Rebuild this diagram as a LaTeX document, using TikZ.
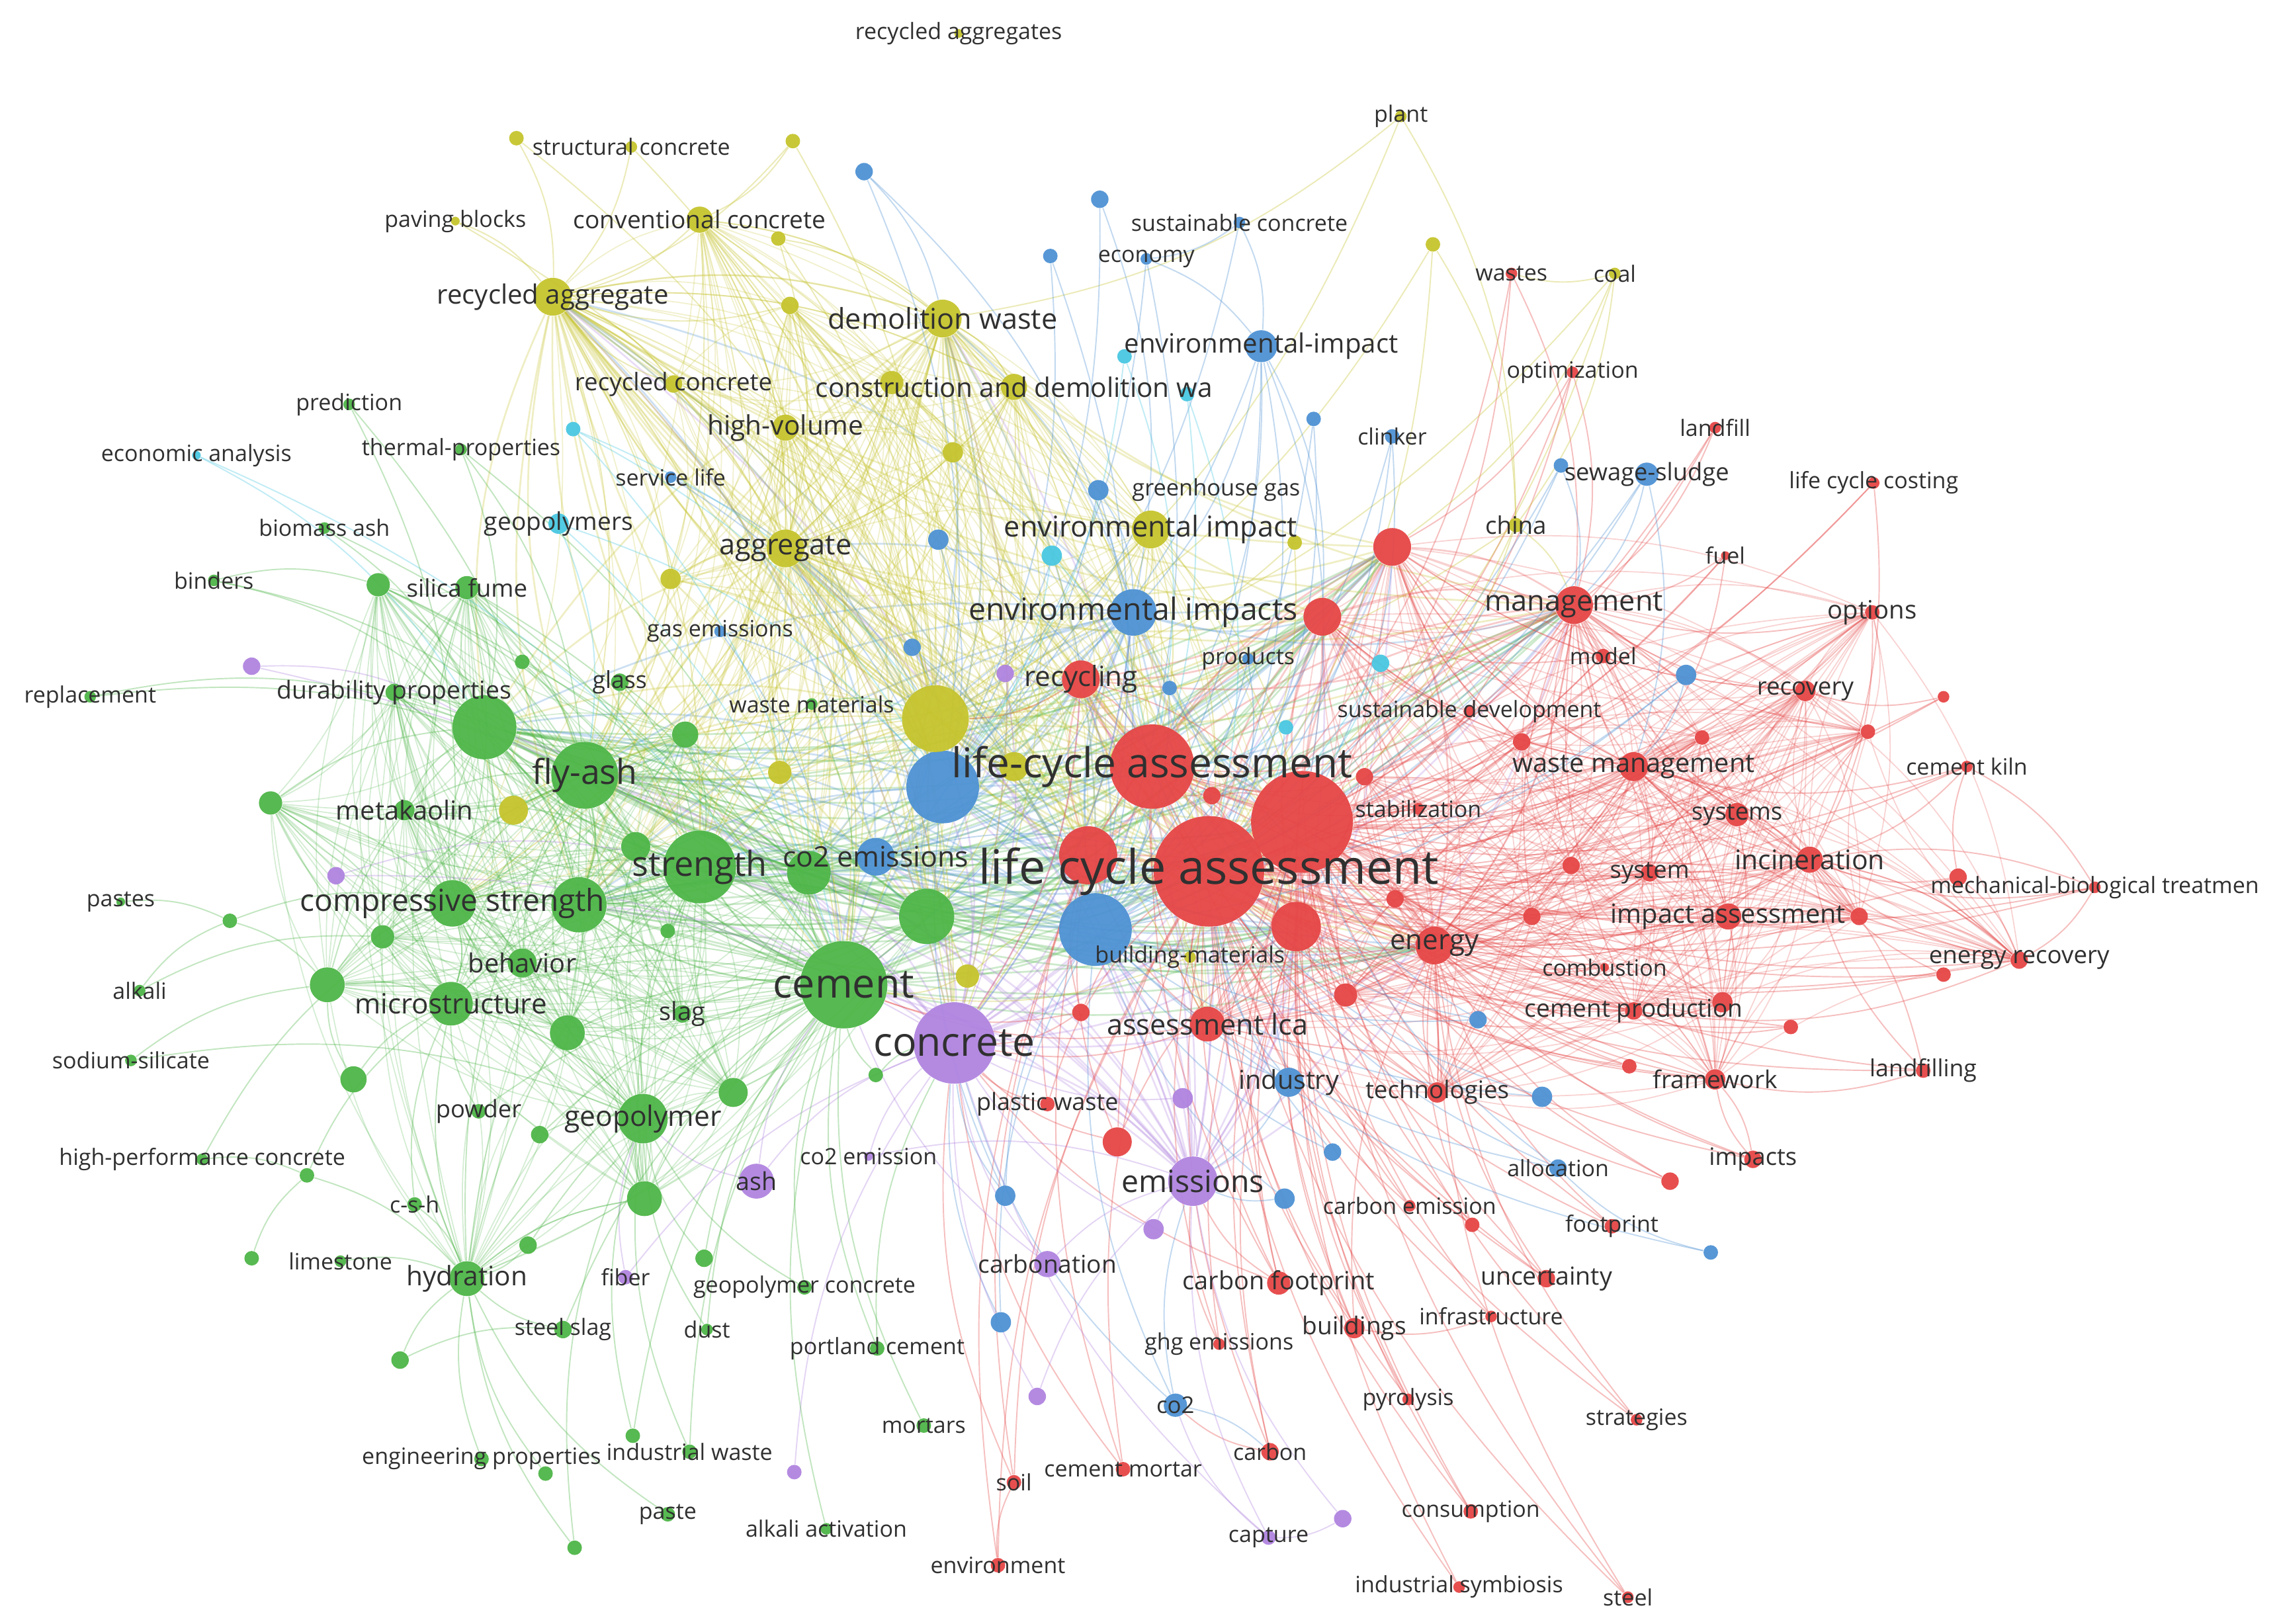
\documentclass[tikz,border=0pt]{standalone}
\usepackage{fontspec}
\setmainfont{Open Sans}
\definecolor{cR}{RGB}{230,70,70}
\definecolor{cG}{RGB}{78,182,72}
\definecolor{cY}{RGB}{198,196,46}
\definecolor{cB}{RGB}{78,146,212}
\definecolor{cP}{RGB}{176,132,224}
\definecolor{cC}{RGB}{74,200,226}
\definecolor{txt}{RGB}{48,48,48}
\pgfdeclarelayer{bglayer}
\pgfdeclarelayer{edgelayer}
\pgfdeclarelayer{labellayer}
\pgfsetlayers{bglayer,edgelayer,main,labellayer}
\tikzset{
  kwdot/.style={circle,fill=#1,draw=none,inner sep=0pt,fill opacity=0.95},
  kwlab/.style={font=\fontsize{#1}{#1}\selectfont,text=txt,inner sep=0pt},
  kwedge/.style={draw=#1,line width=0.5pt,draw opacity=0.34},
  kwhub/.style={draw=#1,line width=0.7pt,draw opacity=0.28},
  kwmid/.style={draw=#1,line width=0.45pt,draw opacity=0.24},
  kwbend/.style={bend left=15},
}
\newcommand{\kwnode}[5]{\node[kwdot=#5,minimum size=#4*0.4mm] (#1) at (#2,#3) {};}
\newcommand{\kw}[7]{\node[kwdot=#5,minimum size=#4*0.4mm] (#1) at (#2,#3) {};
  \begin{pgfonlayer}{labellayer}\node[kwlab=#6] (l-#1) at (#2,#3) {#7};\end{pgfonlayer}}
\begin{document}
\begin{tikzpicture}[x=0.2mm,y=-0.2mm]
\begin{pgfonlayer}{bglayer}
\fill[white] (0,0) rectangle (1568,1116);
\end{pgfonlayer}
\useasboundingbox (0,0) rectangle (1568,1116);

% ---------------- big hubs first
\kw{lca}{831}{599}{38}{cR}{18.6}{life cycle assessment}
\kwnode{r23}{895}{565}{35}{cR}
\kw{lcaH}{792}{527}{29}{cR}{16.1}{life-cycle assessment}
\kwnode{r26}{748}{588}{20}{cR}
\kwnode{r37}{891}{637}{17}{cR}
\kwnode{b20}{648}{541}{25}{cB}
\kwnode{b22}{753}{639}{25}{cB}
\kwnode{y24}{643}{494}{23}{cY}
\kw{cement}{580}{677}{30}{cG}{15.8}{cement}
\kw{concrete}{656}{717}{28}{cP}{15.7}{concrete}
\kw{strength}{481}{596}{25}{cG}{13.5}{strength}
\kw{flyash}{402}{533}{23}{cG}{13.4}{fly-ash}
\kwnode{g12}{333}{500}{22}{cG}
\kwnode{g22}{398}{622}{19}{cG}
\kwnode{g23}{637}{630}{19}{cG}

% ---------------- yellow
\kw{recaggs}{659}{23}{3}{cY}{8.8}{recycled aggregates}
\kw{plant}{963}{80}{4}{cY}{8.8}{plant}
\kwnode{y4}{355}{95}{5}{cY}
\kwnode{y5}{545}{97}{5}{cY}
\kw{structc}{434}{101}{4}{cY}{8.8}{structural concrete}
\kw{paving}{313}{152}{3}{cY}{8.8}{paving blocks}
\kw{convc}{481}{151}{9}{cY}{9.6}{conventional concrete}
\kwnode{y8}{535}{164}{5}{cY}
\kwnode{y9}{985}{168}{5}{cY}
\kw{coal}{1110}{188}{4}{cY}{8.8}{coal}
\kw{recagg}{380}{204}{13}{cY}{10.4}{recycled aggregate}
\kwnode{y12}{543}{210}{6}{cY}
\kw{demol}{648}{219}{13}{cY}{11.2}{demolition waste}
\kwnode{y14}{613}{263}{8}{cY}
\kw{cdw}{697}{266}{9}{cY}{10.5}{construction and demolition wa}
\kw{recconc}{463}{264}{6}{cY}{9.5}{recycled concrete}
\kw{highvol}{540}{294}{9}{cY}{10.5}{high-volume}
\kwnode{y18}{655}{311}{7}{cY}
\kw{china}{1042}{361}{5}{cY}{9.5}{china}
\kw{aggr}{540}{377}{13}{cY}{11.2}{aggregate}
\kw{envimp}{791}{364}{13}{cY}{11.2}{environmental impact}
\kwnode{y22}{890}{373}{5}{cY}
\kwnode{y23}{461}{398}{7}{cY}
\kwnode{y25}{536}{531}{8}{cY}
\kwnode{y26}{697}{527}{10}{cY}
\kwnode{y27}{353}{557}{10}{cY}
\kwnode{y28}{665}{671}{8}{cY}
\kw{bmat}{818}{658}{4}{cY}{8.8}{building-materials}

% ---------------- blue
\kwnode{b1}{594}{118}{6}{cB}
\kwnode{b2}{756}{137}{6}{cB}
\kw{sustc}{852}{153}{4}{cB}{8.8}{sustainable concrete}
\kwnode{b4}{722}{176}{5}{cB}
\kw{economy}{788}{178}{4}{cB}{8.8}{economy}
\kw{envimpH}{867}{238}{11}{cB}{10.4}{environmental-impact}
\kwnode{b7}{903}{288}{5}{cB}
\kw{clinker}{957}{300}{5}{cB}{8.8}{clinker}
\kwnode{b9}{1073}{320}{5}{cB}
\kw{sewage}{1132}{326}{8}{cB}{9.4}{sewage-sludge}
\kw{servlife}{461}{328}{4}{cB}{8.8}{service life}
\kwnode{b12}{755}{337}{7}{cB}
\kwnode{b13}{645}{371}{7}{cB}
\kw{gasem}{495}{434}{4}{cB}{8.8}{gas emissions}
\kwnode{b15}{627}{445}{6}{cB}
\kw{envimps}{779}{421}{16}{cB}{12}{environmental impacts}
\kw{products}{858}{453}{4}{cB}{8.8}{products}
\kwnode{b18}{804}{473}{5}{cB}
\kwnode{b19}{1159}{464}{7}{cB}
\kw{co2ems}{602}{589}{13}{cB}{11.1}{co2 emissions}
\kwnode{b23}{1016}{701}{6}{cB}
\kw{industry}{886}{744}{10}{cB}{10.2}{industry}
\kwnode{b25}{1060}{754}{7}{cB}
\kw{allocation}{1071}{803}{6}{cB}{8.8}{allocation}
\kwnode{b27}{916}{792}{6}{cB}
\kwnode{b28}{691}{822}{7}{cB}
\kwnode{b29}{883}{824}{7}{cB}
\kwnode{b30}{1176}{861}{5}{cB}
\kwnode{b31}{688}{909}{7}{cB}
\kw{co2}{808}{966}{8}{cB}{9}{co2}
\begin{pgfonlayer}{labellayer}\node[kwlab=8.9] (l-ghg) at (836,337) {greenhouse gas};\end{pgfonlayer}

% ---------------- cyan
\kwnode{c1}{773}{245}{5}{cC}
\kwnode{c2}{816}{271}{5}{cC}
\kwnode{c3}{394}{295}{5}{cC}
\kw{econan}{135}{313}{3}{cC}{8.8}{economic analysis}
\kw{geopolymers}{384}{360}{7}{cC}{9.6}{geopolymers}
\kwnode{c6}{723}{382}{7}{cC}
\kwnode{c7}{949}{456}{6}{cC}
\kwnode{c8}{884}{500}{5}{cC}

% ---------------- red
\kw{wastes}{1039}{188}{4}{cR}{8.8}{wastes}
\kw{optim}{1081}{256}{4}{cR}{8.8}{optimization}
\kw{landfill}{1179}{294}{4}{cR}{8.8}{landfill}
\kw{lcc}{1288}{332}{4}{cR}{8.8}{life cycle costing}
\kwnode{r5}{957}{376}{13}{cR}
\kw{fuel}{1186}{382}{3}{cR}{8.8}{fuel}
\kwnode{r7}{909}{424}{13}{cR}
\kw{mgmt}{1082}{416}{13}{cR}{11.2}{management}
\kw{options}{1287}{421}{5}{cR}{9.9}{options}
\kw{model}{1102}{451}{5}{cR}{8.8}{model}
\kw{recycling}{743}{467}{13}{cR}{10.9}{recycling}
\kw{recovery}{1241}{475}{7}{cR}{9.5}{recovery}
\kwnode{r13}{1336}{479}{4}{cR}
\kw{susdev}{1010}{489}{4}{cR}{8.8}{sustainable development}
\kwnode{r15}{1046}{510}{6}{cR}
\kwnode{r16}{1170}{507}{5}{cR}
\kwnode{r17}{1284}{503}{5}{cR}
\kw{wastemgmt}{1123}{527}{10}{cR}{10.3}{waste management}
\kw{cementkiln}{1352}{527}{4}{cR}{8.8}{cement kiln}
\kwnode{r21}{938}{534}{6}{cR}
\kwnode{r22}{833}{547}{6}{cR}
\kw{stabil}{975}{556}{4}{cR}{8.8}{stabilization}
\kw{systems}{1194}{560}{8}{cR}{9.4}{systems}
\kw{incin}{1244}{591}{9}{cR}{10.6}{incineration}
\kwnode{r29}{1080}{595}{6}{cR}
\kw{system}{1134}{600}{6}{cR}{9.4}{system}
\kwnode{r31}{1346}{603}{6}{cR}
\kw{mbt}{1440}{610}{4}{cR}{8.8}{mechanical-biological treatmen}
\kwnode{r33}{959}{618}{6}{cR}
\kwnode{r34}{1053}{630}{6}{cR}
\kw{impassess}{1188}{630}{9}{cR}{10.3}{impact assessment}
\kwnode{r36}{1278}{630}{6}{cR}
\kw{energy}{986}{650}{13}{cR}{10.9}{energy}
\kw{enrec}{1388}{660}{6}{cR}{9.5}{energy recovery}
\kwnode{r40}{1336}{670}{5}{cR}
\kw{combustion}{1103}{665}{3}{cR}{8.8}{combustion}
\kwnode{r42}{925}{684}{8}{cR}
\kwnode{r43}{1184}{689}{7}{cR}
\kw{cementprod}{1123}{695}{6}{cR}{9.6}{cement production}
\kwnode{r45}{743}{696}{6}{cR}
\kw{lcaassess}{830}{704}{12}{cR}{11.2}{assessment lca}
\kwnode{r47}{1231}{706}{5}{cR}
\kw{landfilling}{1322}{736}{5}{cR}{9.2}{landfilling}
\kwnode{r49}{1120}{733}{5}{cR}
\kw{framework}{1179}{742}{7}{cR}{9.6}{framework}
\kw{technologies}{988}{751}{7}{cR}{9.5}{technologies}
\kw{plasticw}{720}{759}{5}{cR}{9.3}{plastic waste}
\kwnode{r53}{768}{785}{10}{cR}
\kw{impacts}{1205}{797}{6}{cR}{9.4}{impacts}
\kwnode{r55}{1148}{812}{6}{cR}
\kw{carbonemission}{969}{829}{4}{cR}{8.8}{carbon emission}
\kwnode{r57}{1012}{842}{5}{cR}
\kw{footprint}{1108}{843}{5}{cR}{8.8}{footprint}
\kw{uncertainty}{1063}{879}{6}{cR}{9.7}{uncertainty}
\kw{carbonfp}{879}{882}{8}{cR}{9.8}{carbon footprint}
\kw{infra}{1025}{905}{4}{cR}{8.8}{infrastructure}
\kw{buildings}{931}{913}{7}{cR}{9.6}{buildings}
\kw{ghgem}{838}{924}{4}{cR}{8.8}{ghg emissions}
\kw{pyrolysis}{968}{962}{4}{cR}{8.8}{pyrolysis}
\kw{strategies}{1125}{976}{4}{cR}{8.8}{strategies}
\kw{carbon}{873}{998}{6}{cR}{8.8}{carbon}
\kw{cementmortar}{772}{1010}{5}{cR}{8.8}{cement mortar}
\kw{soil}{697}{1019}{5}{cR}{8.8}{soil}
\kw{consumption}{1011}{1039}{5}{cR}{8.8}{consumption}
\kw{environment}{686}{1076}{5}{cR}{8.8}{environment}
\kw{indsym}{1003}{1091}{4}{cR}{8.8}{industrial symbiosis}
\kw{steel}{1119}{1098}{4}{cR}{8.8}{steel}

% ---------------- purple
\kwnode{p1}{691}{463}{6}{cP}
\kwnode{p2}{173}{458}{6}{cP}
\kwnode{p3}{231}{602}{6}{cP}
\kwnode{p5}{813}{755}{7}{cP}
\kw{emissions}{820}{812}{17}{cP}{12}{emissions}
\kw{co2emission}{597}{795}{3}{cP}{8.8}{co2 emission}
\kw{ash}{520}{812}{12}{cP}{9.7}{ash}
\kwnode{p9}{793}{845}{7}{cP}
\kw{carbonation}{720}{869}{9}{cP}{9.6}{carbonation}
\kw{fiber}{430}{878}{5}{cP}{8.8}{fiber}
\kwnode{p12}{713}{960}{6}{cP}
\kwnode{p13}{546}{1012}{5}{cP}
\kwnode{p14}{923}{1044}{6}{cP}
\kw{capture}{872}{1057}{5}{cP}{8.8}{capture}

% ---------------- green
\kw{prediction}{240}{278}{4}{cG}{8.8}{prediction}
\kw{thermal}{317}{309}{4}{cG}{8.8}{thermal-properties}
\kw{biomass}{223}{363}{4}{cG}{8.8}{biomass ash}
\kw{binders}{147}{399}{4}{cG}{8.8}{binders}
\kwnode{g5}{260}{402}{8}{cG}
\kw{silica}{321}{404}{8}{cG}{9.5}{silica fume}
\kwnode{g7}{359}{455}{5}{cG}
\kw{glass}{426}{469}{6}{cG}{9.2}{glass}
\kw{replacement}{62}{479}{4}{cG}{8.8}{replacement}
\kw{durab}{271}{476}{6}{cG}{9.65}{durability properties}
\kw{wastemat}{558}{484}{4}{cG}{8.8}{waste materials}
\kwnode{g13}{471}{505}{9}{cG}
\kwnode{g15}{186}{552}{8}{cG}
\kw{metak}{278}{557}{7}{cG}{10.3}{metakaolin}
\kwnode{g17}{437}{582}{10}{cG}
\kwnode{g19}{556}{600}{15}{cG}
\kw{pastes}{83}{620}{3}{cG}{8.8}{pastes}
\kw{compstr}{311}{621}{16}{cG}{11.9}{compressive strength}
\kwnode{g24}{158}{633}{5}{cG}
\kwnode{g25}{459}{640}{5}{cG}
\kwnode{g26}{263}{644}{8}{cG}
\kw{behavior}{359}{662}{10}{cG}{10.3}{behavior}
\kw{alkali}{96}{681}{4}{cG}{8.8}{alkali}
\kwnode{g30}{225}{677}{12}{cG}
\kw{microstr}{310}{690}{15}{cG}{10.9}{microstructure}
\kw{slag}{469}{697}{6}{cG}{9.8}{slag}
\kwnode{g33}{390}{710}{12}{cG}
\kw{sodium}{90}{729}{4}{cG}{8.8}{sodium-silicate}
\kwnode{g35}{602}{739}{5}{cG}
\kwnode{g36}{243}{742}{9}{cG}
\kwnode{g37}{504}{751}{10}{cG}
\kw{powder}{329}{764}{5}{cG}{9.4}{powder}
\kw{geopolymer}{442}{769}{17}{cG}{11}{geopolymer}
\kwnode{g40}{371}{780}{6}{cG}
\kw{hpc}{139}{797}{4}{cG}{8.8}{high-performance concrete}
\kwnode{g42}{211}{808}{5}{cG}
\kwnode{g43}{443}{824}{12}{cG}
\kw{csh}{285}{828}{5}{cG}{8.8}{c-s-h}
\kwnode{g45}{363}{856}{6}{cG}
\kwnode{g46}{484}{865}{6}{cG}
\kwnode{g47}{173}{865}{5}{cG}
\kw{limestone}{234}{867}{4}{cG}{8.8}{limestone}
\kw{hydration}{321}{879}{12}{cG}{10.5}{hydration}
\kw{geopolconc}{553}{885}{5}{cG}{8.8}{geopolymer concrete}
\kw{steelslag}{387}{914}{6}{cG}{8.8}{steel slag}
\kw{dust}{486}{914}{4}{cG}{8.8}{dust}
\kwnode{g53}{275}{935}{6}{cG}
\kw{portland}{603}{927}{5}{cG}{8.8}{portland cement}
\kw{mortars}{635}{980}{5}{cG}{8.8}{mortars}
\kwnode{g56}{435}{987}{5}{cG}
\kw{indwaste}{474}{998}{5}{cG}{8.8}{industrial waste}
\kw{engprop}{331}{1003}{5}{cG}{8.8}{engineering properties}
\kwnode{g58}{375}{1013}{5}{cG}
\kw{paste}{459}{1041}{5}{cG}{8.8}{paste}
\kw{alkact}{568}{1051}{4}{cG}{8.8}{alkali activation}
\kwnode{g62}{395}{1064}{5}{cG}

% ================= connectors
\begin{pgfonlayer}{edgelayer}
% hub to hub, coloured by the lesser hub
\foreach \a [count=\i] in {lca,lcaH,r23,r26,r37,r7,r5,mgmt,energy,recycling,cement,strength,flyash,g12,g22,g23,g19,y24,recagg,aggr,demol,b20,b22,envimps,co2ems,concrete,emissions}{
  \foreach \b/\cb [count=\j] in {lca/cR,lcaH/cR,r23/cR,r26/cR,r37/cR,r7/cR,r5/cR,mgmt/cR,energy/cR,recycling/cR,cement/cG,strength/cG,flyash/cG,g12/cG,g22/cG,g23/cG,g19/cG,y24/cY,recagg/cY,aggr/cY,demol/cY,b20/cB,b22/cB,envimps/cB,co2ems/cB,concrete/cP,emissions/cP}{
    \ifnum\j>\i \draw[kwhub=\cb] (\a) to[kwbend] (\b);\fi
  }
}
% dense red core
\foreach \a [count=\i] in {mgmt,wastemgmt,incin,impassess,energy,systems,system,recovery,cementprod,r43,r42,r34,r33,r29,r21,r15,r5,r7,framework,technologies,lcaassess,options,r36,enrec,r16,r17}{
  \foreach \b [count=\j] in {mgmt,wastemgmt,incin,impassess,energy,systems,system,recovery,cementprod,r43,r42,r34,r33,r29,r21,r15,r5,r7,framework,technologies,lcaassess,options,r36,enrec,r16,r17}{
    \ifnum\j>\i \draw[kwmid=cR] (\a) to[kwbend] (\b);\fi
  }
}
% dense green core
\foreach \a [count=\i] in {cement,strength,flyash,g12,compstr,g22,g23,g19,microstr,geopolymer,hydration,behavior,g30,g33,g37,g43,g17,g13,metak,g26,durab,silica,g5,slag,g15}{
  \foreach \b [count=\j] in {cement,strength,flyash,g12,compstr,g22,g23,g19,microstr,geopolymer,hydration,behavior,g30,g33,g37,g43,g17,g13,metak,g26,durab,silica,g5,slag,g15}{
    \ifnum\j>\i \draw[kwmid=cG] (\a) to[kwbend] (\b);\fi
  }
}
% dense yellow core
\foreach \a [count=\i] in {y24,recagg,convc,demol,cdw,y14,aggr,highvol,envimp,recconc,y12,y18,y23,y25,y26}{
  \foreach \b [count=\j] in {y24,recagg,convc,demol,cdw,y14,aggr,highvol,envimp,recconc,y12,y18,y23,y25,y26}{
    \ifnum\j>\i \draw[kwmid=cY] (\a) to[kwbend] (\b);\fi
  }
}
% yellow core to green / red centre
\foreach \a in {recagg,convc,demol,cdw,aggr,highvol,envimp,y14,y12}{
  \foreach \b in {g13,g17,g19,g23,compstr,g22,r26,r37,lcaassess,b20,b22}{
    \draw[kwmid=cY] (\a) to[kwbend] (\b);
  }
}
% red
\foreach \n/\tg in {wastes/{lca,r23,mgmt},optim/{lca,r23,mgmt,r5},landfill/{lca,mgmt,r23},lcc/{lca,r23,incin},fuel/{mgmt,lca,r23,wastemgmt},options/{mgmt,lca,r23,wastemgmt,incin},model/{mgmt,lca,r23,r7},recovery/{mgmt,lca,r23,wastemgmt,r5,energy},r13/{lca,recovery,r23},susdev/{lca,r23,lcaH,r7,mgmt},r15/{lca,r23,mgmt,r5},r16/{lca,r23,wastemgmt},r17/{lca,r23,recovery,mgmt},wastemgmt/{lca,r23,lcaH,mgmt,incin,energy,r5,r7,systems,impassess},cementkiln/{lca,r23,wastemgmt,incin,mbt},r21/{lca,r23,lcaH,mgmt},r22/{lca,lcaH,r23},stabil/{lca,r23,lcaH},systems/{lca,r23,wastemgmt,mgmt,incin},incin/{lca,r23,lcaH,mgmt,wastemgmt,energy,enrec,mbt,landfilling},r29/{lca,r23,energy,mgmt},system/{lca,r23,energy},r31/{lca,enrec,incin,cementkiln},mbt/{lca,r23,incin,enrec},r33/{lca,r23,energy},r34/{lca,r23,energy,mgmt},impassess/{lca,r23,lcaH,energy,wastemgmt,incin,mgmt},r36/{lca,r23,impassess,incin},enrec/{lca,r23,wastemgmt,incin,cementprod},r40/{lca,incin,r23},combustion/{lca,r23,energy},r42/{lca,r23,energy,r37},r43/{lca,r23,energy,cementprod},cementprod/{lca,r23,energy,lcaH,r37,mgmt},r45/{lca,r26,cement,concrete},lcaassess/{lca,r23,lcaH,r26,r37,concrete,cement,energy},r47/{lca,r23,cementprod},landfilling/{lca,framework,incin,r23},r49/{lca,r23,energy},framework/{lca,r23,energy,impacts,r37},technologies/{lca,r23,energy,r37,lcaH},plasticw/{lca,concrete,r26},r53/{lca,r26,concrete,r37},impacts/{lca,r23,energy,framework},r55/{lca,r23,energy},carbonemission/{lca,r23,r37},r57/{lca,r23,energy},footprint/{lca,r23,energy},uncertainty/{lca,r23,lcaH,energy},carbonfp/{lca,r23,r37,concrete,emissions,lcaH},infra/{lca,r23,buildings},buildings/{lca,r23,r37,energy},ghgem/{lca,r23,emissions},pyrolysis/{lca,r23,r37},strategies/{lca,r23,energy},carbon/{lca,r23,r37,co2},cementmortar/{lca,r26,concrete},soil/{lca,r26,concrete},consumption/{lca,r23,r37},environment/{lca,r26,soil},indsym/{lca,r23},steel/{lca,r23,energy},recycling/{lcaH,r23,concrete,y24}}{
  \foreach \t in \tg {\draw[kwedge=cR] (\n) to[kwbend] (\t);}
}
% yellow
\foreach \n/\tg in {plant/{y24,demol,china},structc/{recagg,y24},y4/{recagg,y24},y5/{recagg,y24,convc},paving/{recagg,y24},convc/{y24,recagg,aggr,demol,cement,concrete,lcaH,flyash,strength},y8/{y24,demol,aggr},y9/{y24,lca,china},coal/{y24,china,wastes,r5,lca},recagg/{cement,concrete,lcaH,lca,flyash,strength,cdw,recconc},y12/{y24,recagg,aggr},demol/{cement,concrete,lcaH,lca,cdw},y14/{y24,demol,aggr,lcaH},cdw/{y24,lcaH,lca,concrete,aggr,r23},recconc/{y24,recagg,aggr,concrete},highvol/{y24,aggr,flyash,strength,cement,concrete},y18/{y24,lca,aggr},china/{lca,r23,mgmt,y24},aggr/{cement,concrete,lcaH,lca,flyash,strength},envimp/{y24,lca,lcaH,r23,envimps,concrete},y22/{lca,y24},y23/{y24,aggr,flyash},y25/{y24,cement,strength,g12},y26/{lca,lcaH,y24,cement},y27/{flyash,g12,y24},y28/{lca,cement,y24},bmat/{lca,r23,cement}}{
  \foreach \t in \tg {\draw[kwedge=cY] (\n) to[kwbend] (\t);}
}
% blue
\foreach \n/\tg in {b1/{b20,envimps,demol},b2/{envimps,b20},sustc/{envimpH,economy,b20},b4/{b20,b22},economy/{envimpH,b22,b20},envimpH/{b20,b22,envimps,lca,lcaH,r23,r7},b7/{b22,lca},clinker/{b22,lca,r23},b9/{b22,mgmt,lca},sewage/{b22,mgmt,wastemgmt,lca},servlife/{b20,y24},b12/{b20,b22,envimps},b13/{b20,lca},gasem/{b20,cement},b15/{b20,b22},envimps/{concrete,cement},products/{b22,lca},b18/{b22,lca},b19/{b22,lca,wastemgmt},co2ems/{lca},b23/{b22,lca,r23},industry/{b22,lca,r23,emissions},b25/{b22,lca},allocation/{b22,lca,r23},b27/{b22,lca},b28/{b20,concrete,b22},b29/{b22,emissions},b30/{b22,allocation},b31/{b22,concrete},co2/{b22,emissions,concrete,carbon}}{
  \foreach \t in \tg {\draw[kwedge=cB] (\n) to[kwbend] (\t);}
}
% cyan
\foreach \n/\tg in {c1/{b20,lcaH},c2/{lca,b22},c3/{y24,b20,cement},econan/{g12,cement},geopolymers/{b20,cement,flyash},c6/{b20,lcaH},c7/{lca,b22},c8/{lca,lcaH}}{
  \foreach \t in \tg {\draw[kwedge=cC] (\n) to[kwbend] (\t);}
}
% purple
\foreach \n/\tg in {p1/{concrete,lcaH},p2/{concrete,g12},p3/{concrete,strength},p5/{concrete,emissions},co2emission/{concrete,emissions},ash/{concrete,cement,geopolymer},p9/{emissions,concrete},carbonation/{concrete,emissions,cement},fiber/{concrete,geopolymer},p12/{concrete,emissions},p13/{concrete},p14/{emissions,capture},capture/{emissions,co2,concrete}}{
  \foreach \t in \tg {\draw[kwedge=cP] (\n) to[kwbend] (\t);}
}
% green
\foreach \n/\tg in {prediction/{compstr,g22},thermal/{flyash,g12,cement},biomass/{g12,cement},binders/{g12,g5,flyash},g5/{g12,flyash,cement,strength},silica/{flyash,g12,cement,strength,compstr},g7/{flyash,cement},glass/{flyash,cement,strength},replacement/{g12,flyash},durab/{g12,flyash,cement},wastemat/{cement,flyash,y24},g13/{cement,flyash,strength,g12},g15/{g12,compstr,microstr},metak/{flyash,g12,strength,compstr,cement},g17/{cement,flyash,strength},pastes/{g24},compstr/{flyash,g12,cement,strength,microstr,g22},g24/{compstr,g30},g25/{cement,strength},g26/{compstr,microstr,flyash},behavior/{cement,strength,flyash,compstr},alkali/{g24,g26},g30/{compstr,microstr,flyash,g12},microstr/{cement,strength,flyash,geopolymer},slag/{cement,strength,flyash},g33/{cement,strength,flyash,compstr},sodium/{g30,geopolymer},g35/{cement,concrete},g36/{microstr,g30},g37/{cement,strength,geopolymer},powder/{cement,microstr},geopolymer/{cement,strength,flyash,g12,compstr},g40/{geopolymer,cement},hpc/{g42,compstr},g42/{hydration,microstr},g43/{cement,geopolymer,strength},csh/{hydration,microstr},g45/{hydration,cement},g46/{cement,geopolymer},g47/{g42},limestone/{hydration},hydration/{cement,microstr,strength,g43,flyash},geopolconc/{cement,geopolymer},steelslag/{hydration,cement},dust/{cement,geopolymer},g53/{hydration,steelslag},portland/{cement,concrete},mortars/{cement},g56/{geopolymer,cement},engprop/{hydration},g58/{hydration},indwaste/{cement,geopolymer},paste/{hydration},alkact/{cement},g62/{hydration,geopolymer}}{
  \foreach \t in \tg {\draw[kwedge=cG] (\n) to[kwbend] (\t);}
}
\end{pgfonlayer}
\end{tikzpicture}
\end{document}
